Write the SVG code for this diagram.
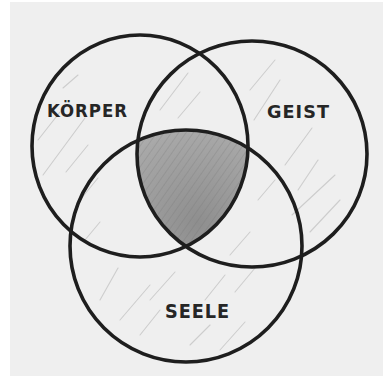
<svg xmlns="http://www.w3.org/2000/svg" width="383" height="376" viewBox="0 0 383 376">
  <style>
    .ring { fill: none; stroke: #1e1e1e; stroke-width: 3.6; stroke-linecap: round; }
    .hatch { stroke: #cdcdcd; stroke-width: 1.1; stroke-linecap: round; fill: none; }
    .label { font-family: "DejaVu Sans", "Liberation Sans", sans-serif; font-weight: bold; fill: #262626; letter-spacing: 1px; }
  </style>
  <defs>
    <clipPath id="clipK"><ellipse cx="140" cy="146" rx="108" ry="111"/></clipPath>
    <clipPath id="clipG"><ellipse cx="252" cy="154" rx="115" ry="113"/></clipPath>
    <radialGradient id="shade" cx="0.55" cy="0.4" r="0.6">
      <stop offset="0" stop-color="#8e8e8e"/>
      <stop offset="0.65" stop-color="#a8a8a8"/>
      <stop offset="1" stop-color="#c2c2c2"/>
    </radialGradient>
    <pattern id="hatchP" width="6" height="6" patternUnits="userSpaceOnUse" patternTransform="rotate(35)">
      <line x1="0" y1="0" x2="0" y2="6" stroke="#6e6e6e" stroke-width="1.2" opacity="0.4"/>
    </pattern>
  </defs>

  <rect width="383" height="376" fill="#ffffff"/>
  <rect x="10" y="2" width="373" height="374" fill="#efefef"/>

  <g id="hatching">
    <line class="hatch" x1="38" y1="140" x2="60" y2="112"/>
    <line class="hatch" x1="43" y1="175" x2="85" y2="118"/>
    <line class="hatch" x1="66" y1="172" x2="88" y2="145"/>
    <line class="hatch" x1="80" y1="200" x2="98" y2="178"/>
    <line class="hatch" x1="63" y1="88" x2="78" y2="75"/>
    <line class="hatch" x1="160" y1="110" x2="188" y2="73"/>
    <line class="hatch" x1="178" y1="118" x2="200" y2="92"/>
    <line class="hatch" x1="250" y1="90" x2="275" y2="60"/>
    <line class="hatch" x1="254" y1="120" x2="280" y2="80"/>
    <line class="hatch" x1="285" y1="165" x2="312" y2="128"/>
    <line class="hatch" x1="298" y1="190" x2="318" y2="160"/>
    <line class="hatch" x1="292" y1="215" x2="335" y2="175"/>
    <line class="hatch" x1="310" y1="232" x2="340" y2="200"/>
    <line class="hatch" x1="258" y1="200" x2="275" y2="180"/>
    <line class="hatch" x1="100" y1="300" x2="118" y2="268"/>
    <line class="hatch" x1="120" y1="320" x2="150" y2="285"/>
    <line class="hatch" x1="140" y1="335" x2="160" y2="310"/>
    <line class="hatch" x1="150" y1="300" x2="175" y2="272"/>
    <line class="hatch" x1="205" y1="300" x2="225" y2="275"/>
    <line class="hatch" x1="235" y1="292" x2="255" y2="268"/>
    <line class="hatch" x1="190" y1="345" x2="210" y2="325"/>
    <line class="hatch" x1="220" y1="350" x2="245" y2="322"/>
    <line class="hatch" x1="85" y1="240" x2="100" y2="222"/>
    <line class="hatch" x1="230" y1="255" x2="250" y2="232"/>
  </g>

  <g id="center-intersection" clip-path="url(#clipK)">
    <g clip-path="url(#clipG)">
      <ellipse cx="186" cy="246" rx="116" ry="116" fill="url(#shade)"/>
      <ellipse cx="186" cy="246" rx="116" ry="116" fill="url(#hatchP)"/>
    </g>
  </g>

  <g id="koerper">
    <ellipse class="ring" cx="140" cy="146" rx="108" ry="111"/>
    <text class="label" x="47" y="117" font-size="17" textLength="81" lengthAdjust="spacingAndGlyphs">KÖRPER</text>
  </g>
  <g id="geist">
    <ellipse class="ring" cx="252" cy="154" rx="115" ry="113"/>
    <text class="label" x="267" y="118" font-size="17" textLength="63" lengthAdjust="spacingAndGlyphs">GEIST</text>
  </g>
  <g id="seele">
    <ellipse class="ring" cx="186" cy="246" rx="116" ry="116"/>
    <text class="label" x="165" y="318" font-size="19" textLength="65" lengthAdjust="spacingAndGlyphs">SEELE</text>
  </g>
</svg>
